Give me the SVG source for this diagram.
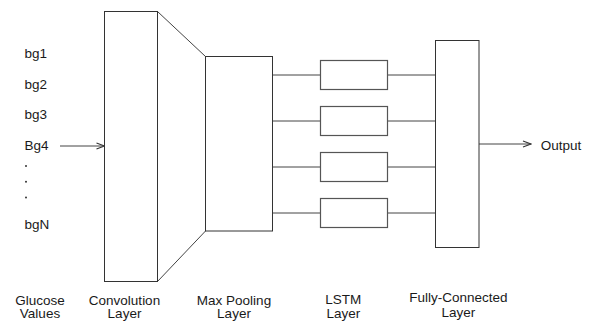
<svg xmlns="http://www.w3.org/2000/svg" width="589" height="321" viewBox="0 0 589 321">
<defs>
<style>
.box{fill:#fff;stroke:#333;stroke-width:1}
.lstm{fill:#fff;stroke:#555;stroke-width:1.2}
.ln{fill:none;stroke:#444;stroke-width:1}
.t{font-family:"Liberation Sans",Arial,sans-serif;font-size:13.5px;fill:#1a1a1a}
.c{text-anchor:middle}
</style>
<marker id="arr" viewBox="0 0 10 8" refX="9" refY="4" markerWidth="10" markerHeight="8" markerUnits="userSpaceOnUse" orient="auto">
<path d="M1,1 L9,4 L1,7" fill="none" stroke="#333" stroke-width="1.1"/>
</marker>
</defs>
<rect width="589" height="321" fill="#fff"/>
<g id="connectors">
<line class="ln" x1="60" y1="146" x2="104.5" y2="146" marker-end="url(#arr)"/>
<line class="ln" x1="157.5" y1="11.5" x2="205.5" y2="56.5"/>
<line class="ln" x1="157.5" y1="281.5" x2="205.5" y2="231"/>
<line class="ln" x1="272.5" y1="75" x2="320.5" y2="75"/>
<line class="ln" x1="272.5" y1="121" x2="320.5" y2="121"/>
<line class="ln" x1="272.5" y1="167" x2="320.5" y2="167"/>
<line class="ln" x1="272.5" y1="213" x2="320.5" y2="213"/>
<line class="ln" x1="387.5" y1="75" x2="435.5" y2="75"/>
<line class="ln" x1="387.5" y1="121" x2="435.5" y2="121"/>
<line class="ln" x1="387.5" y1="167" x2="435.5" y2="167"/>
<line class="ln" x1="387.5" y1="213" x2="435.5" y2="213"/>
<line class="ln" x1="479" y1="144" x2="531" y2="144" marker-end="url(#arr)"/>
</g>
<g id="inputs">
<text class="t" x="24.5" y="58.3">bg1</text>
<text class="t" x="24.5" y="88.5">bg2</text>
<text class="t" x="24.5" y="119">bg3</text>
<text class="t" x="24.5" y="150">Bg4</text>
<circle cx="26" cy="166" r="1" fill="#333"/>
<circle cx="26" cy="181.7" r="1" fill="#333"/>
<circle cx="26" cy="197.5" r="1" fill="#333"/>
<text class="t" x="24.5" y="229">bgN</text>
<text class="t c" x="40" y="304.5">Glucose</text>
<text class="t c" x="40" y="318">Values</text>
</g>
<g id="conv">
<rect class="box" x="104.5" y="11.5" width="53" height="270"/>
<text class="t c" x="124.5" y="304.5">Convolution</text>
<text class="t c" x="124.5" y="318">Layer</text>
</g>
<g id="maxpool">
<rect class="box" x="205.5" y="56.5" width="67" height="174.5"/>
<text class="t c" x="234" y="304.5">Max Pooling</text>
<text class="t c" x="234" y="318">Layer</text>
</g>
<g id="lstm">
<rect class="lstm" x="320.5" y="60.5" width="67" height="29"/>
<rect class="lstm" x="320.5" y="106.5" width="67" height="29"/>
<rect class="lstm" x="320.5" y="152.5" width="67" height="29"/>
<rect class="lstm" x="320.5" y="198.5" width="67" height="29"/>
<text class="t c" x="343.3" y="304">LSTM</text>
<text class="t c" x="343.3" y="318">Layer</text>
</g>
<g id="fc">
<rect class="box" x="435.5" y="40.5" width="43.5" height="207"/>
<text class="t c" x="458.3" y="301.7">Fully-Connected</text>
<text class="t c" x="458.3" y="316.5">Layer</text>
</g>
<g id="output">
<text class="t" x="540.7" y="150">Output</text>
</g>
</svg>
